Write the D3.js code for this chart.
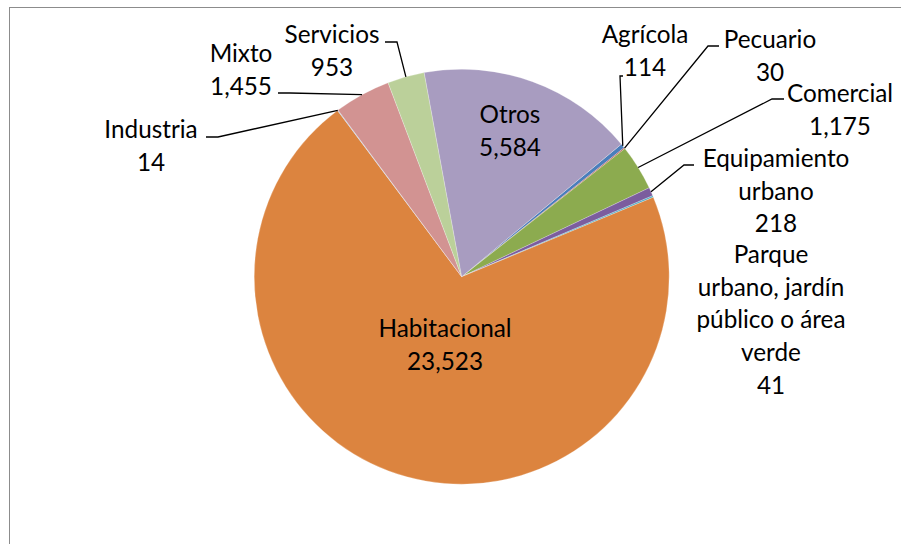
<!DOCTYPE html>
<html>
<head>
<meta charset="utf-8">
<script src="https://cdn.jsdelivr.net/npm/d3@7"></script>
<style>
  body { margin: 0; background: #fff; }
  text { font-family: Lato, "Open Sans", sans-serif; fill: #000; }
</style>
</head>
<body>
<div id="chart"></div>
<script>
let svgWidth = 901;
let svgHeight = 544;

// data, in the order the slices are drawn (clockwise)
let categories = ["Agrícola", "Pecuario", "Comercial", "Equipamiento urbano",
  "Parque urbano, jardín público o área verde", "Habitacional", "Industria",
  "Mixto", "Servicios", "Otros"];
let values = [114, 30, 1175, 218, 41, 23523, 14, 1455, 953, 5584];
let valueLabels = ["114", "30", "1,175", "218", "41", "23,523", "14", "1,455", "953", "5,584"];
let colors = ["#4a7ebb", "#be4b48", "#8cab4f", "#7b5d9e", "#46a9c4", "#dc843f",
  "#93b1d5", "#d29392", "#bbd09a", "#a89cc0"];

// label layout: text lines, centre x, first baseline, leader (text side points)
let labelLines = [
  ["Agrícola", "114"],
  ["Pecuario", "30"],
  ["Comercial", "1,175"],
  ["Equipamiento", "urbano", "218"],
  ["Parque", "urbano, jardín", "público o área", "verde", "41"],
  ["Habitacional", "23,523"],
  ["Industria", "14"],
  ["Mixto", "1,455"],
  ["Servicios", "953"],
  ["Otros", "5,584"]
];
let labelX = [645, 770, 840, 776, 771, 445, 151, 241, 332, 510];
let labelY = [43, 48, 102, 167, 263, 337, 138, 62, 43, 123];
let leaders = [
  [[623, 76], [620, 76]],
  [[719, 46], [708, 46]],
  [[784, 99], [772, 99]],
  [[694, 165], [684, 165]],
  null,
  null,
  [[206, 137], [218, 137]],
  [[278, 93], [290, 93]],
  [[385, 42], [397, 42]],
  null
];

let cx = 461.7, cy = 276.7, radius = 207.5;
let startDeg = 50.3;
let lineGap = 32.7;

let svg = d3.select("#chart")
  .append("svg")
  .attr("width", svgWidth)
  .attr("height", svgHeight);

// chart frame
svg.append("rect")
  .attr("x", 9.5)
  .attr("y", 7.5)
  .attr("width", 1000)
  .attr("height", 1000)
  .attr("fill", "#fff")
  .attr("stroke", "#8c8c8c")
  .attr("stroke-width", 1);

let g = svg.append("g")
  .attr("transform", `translate(${cx}, ${cy})`);

let start = startDeg * Math.PI / 180;
let pie = d3.pie()
  .sort(null)
  .value(d => d)
  .startAngle(start)
  .endAngle(start + 2 * Math.PI);

let arcs = pie(values);

let arc = d3.arc()
  .innerRadius(0)
  .outerRadius(radius);

g.selectAll("path.slice")
  .data(arcs)
  .enter()
  .append("path")
  .attr("class", "slice")
  .attr("d", arc)
  .attr("fill", (d, i) => colors[i])
  .attr("stroke", "#ffffff")
  .attr("stroke-opacity", 0.5)
  .attr("stroke-width", 0.5);

// leader lines
arcs.forEach(function(d, i) {
  if (!leaders[i]) return;
  let mid = (d.startAngle + d.endAngle) / 2;
  let end = [cx + Math.sin(mid) * radius, cy - Math.cos(mid) * radius];
  let pts = leaders[i].concat([end]);
  svg.append("path")
    .attr("d", d3.line()(pts))
    .attr("fill", "none")
    .attr("stroke", "#000")
    .attr("stroke-width", 1.3);
});

// labels
labelLines.forEach(function(lines, i) {
  let t = svg.append("text")
    .attr("text-anchor", "middle")
    .attr("font-size", 24.3);
  lines.forEach(function(s, k) {
    t.append("tspan")
      .attr("x", labelX[i])
      .attr("y", labelY[i] + k * lineGap)
      .text(s);
  });
});
</script>
</body>
</html>
